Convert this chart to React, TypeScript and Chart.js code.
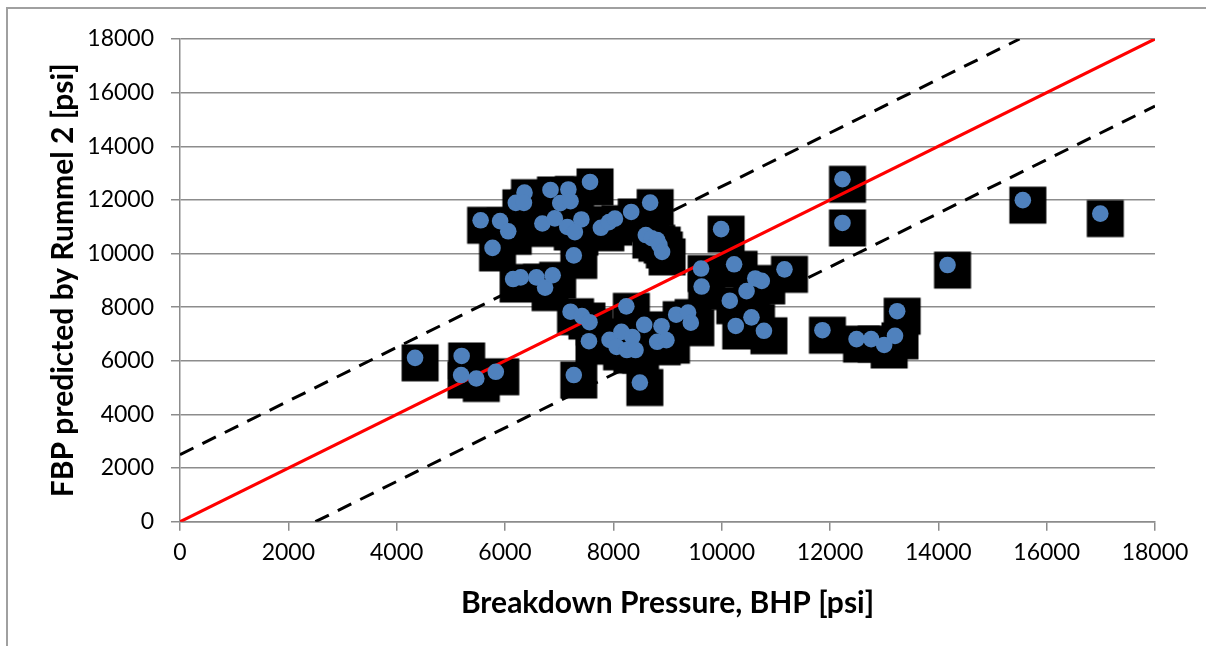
import React, { useEffect, useRef } from "react";
import { Chart, registerables } from "chart.js";

Chart.register(...registerables);

// Breakdown pressure (x) and FBP predicted by Rummel 2 (y), psi
const bhp = [
  4340, 5200, 5190, 5470, 5830, 5550, 5910, 6060, 5770, 6360,
  6200, 6350, 6840, 7170, 7020, 7210, 7570, 6690, 6920, 7150,
  7410, 7290, 7770, 7920, 8030, 8330, 8680, 8600, 8710, 8810,
  8850, 8900, 7270, 6150, 6290, 6580, 6740, 6880, 7210, 7420,
  7560, 7550, 7930, 8150, 8350, 8240, 8060, 8250, 8410, 8570,
  8890, 8810, 8980, 9160, 9380, 9430, 7270, 8490, 9620, 9630,
  9990, 10230, 10620, 10740, 10460, 10150, 10550, 10260, 10780, 11160,
  11860, 12230, 12230, 12490, 12760, 13000, 13200, 13240, 14170, 15560,
  16990,
];
const fbp = [
  6110, 6180, 5470, 5340, 5590, 11240, 11210, 10830, 10210, 12270,
  11890, 11890, 12370, 12390, 11880, 11950, 12670, 11120, 11310, 10990,
  11270, 10800, 10960, 11170, 11300, 11550, 11900, 10690, 10570, 10500,
  10320, 10060, 9930, 9050, 9110, 9110, 8730, 9190, 7830, 7670,
  7440, 6730, 6780, 7080, 6890, 8030, 6520, 6400, 6400, 7340,
  7290, 6710, 6770, 7720, 7800, 7420, 5470, 5190, 9440, 8770,
  10910, 9600, 9070, 8980, 8600, 8240, 7620, 7300, 7120, 9410,
  7140, 12770, 11140, 6810, 6810, 6590, 6930, 7850, 9570, 11990,
  11490,
];

// Reference lines: y = x, and y = x ± 2500
const perfectX = [0, 18000];
const perfectY = [0, 18000];
const upperX = [0, 15500];
const upperY = [2500, 18000];
const lowerX = [2500, 18000];
const lowerY = [0, 15500];

const axisMin = 0;
const axisMax = 18000;
const axisStep = 2000;

const xTitle = "Breakdown Pressure, BHP [psi]";
const yTitle = "FBP predicted by Rummel 2 [psi]";

const pairs = (xs: number[], ys: number[]) => xs.map((x, i) => ({ x, y: ys[i] }));

function makeSquareMarker(): HTMLCanvasElement {
  const c = document.createElement("canvas");
  c.width = 50;
  c.height = 50;
  const ctx = c.getContext("2d")!;
  ctx.fillStyle = "#000000";
  const size = 37;
  ctx.fillRect(25 + 5 - size / 2, 25 + 5 - size / 2, size, size);
  return c;
}

export default function App() {
  const ref = useRef<HTMLCanvasElement | null>(null);

  useEffect(() => {
    if (!ref.current) return;
    const square = makeSquareMarker();
    const gridColor = "#8c8c8c";
    const tickFont = { family: "Lato", size: 23 };
    const titleFont = { family: "Lato", size: 30, weight: "bold" as const };
    const plain = (v: any) => String(v);

    const chart = new Chart(ref.current, {
      type: "scatter",
      data: {
        datasets: [
          {
            label: "FBP",
            data: pairs(bhp, fbp),
            pointStyle: "circle",
            pointRadius: 8.3,
            pointHoverRadius: 8.3,
            backgroundColor: "#4F81BD",
            borderWidth: 0,
            order: 0,
          },
          {
            label: "1:1",
            data: pairs(perfectX, perfectY),
            showLine: true,
            borderColor: "#FF0000",
            borderWidth: 3.2,
            pointRadius: 0,
            order: 1,
          },
          {
            label: "+2500",
            data: pairs(upperX, upperY),
            showLine: true,
            borderColor: "#000000",
            borderWidth: 3,
            borderDash: [15, 10],
            pointRadius: 0,
            order: 1,
          },
          {
            label: "-2500",
            data: pairs(lowerX, lowerY),
            showLine: true,
            borderColor: "#000000",
            borderWidth: 3,
            borderDash: [15, 10],
            pointRadius: 0,
            order: 1,
          },
          {
            label: "marker",
            data: pairs(bhp, fbp),
            pointStyle: square as any,
            pointRadius: 18,
            backgroundColor: "#000000",
            borderWidth: 0,
            order: 2,
          },
        ],
      },
      options: {
        responsive: false,
        animation: false,
        events: [],
        layout: { padding: { left: 0, top: 39, right: 51, bottom: 0 } },
        plugins: {
          legend: { display: false },
          tooltip: { enabled: false },
        },
        scales: {
          x: {
            type: "linear",
            min: axisMin,
            max: axisMax,
            ticks: { stepSize: axisStep, font: tickFont, color: "#000", padding: 8, maxRotation: 0, callback: plain },
            grid: { drawOnChartArea: false, drawTicks: true, tickLength: 9, color: gridColor, lineWidth: 1.5 },
            border: { display: true, color: gridColor, width: 1.5 },
            title: { display: true, text: xTitle, font: titleFont, color: "#000", padding: { top: 0, bottom: 25 } },
            afterFit: (s: any) => {
              s.height = 124.3;
            },
          },
          y: {
            type: "linear",
            min: axisMin,
            max: axisMax,
            ticks: { stepSize: axisStep, font: tickFont, color: "#000", padding: 17, callback: plain },
            grid: { drawOnChartArea: true, drawTicks: true, tickLength: 9, color: gridColor, lineWidth: 1.5 },
            border: { display: true, color: gridColor, width: 1.5 },
            title: { display: true, text: yTitle, font: titleFont, color: "#000", padding: { top: 45, bottom: 0 } },
            afterFit: (s: any) => {
              s.width = 180;
            },
          },
        },
      },
    });
    return () => chart.destroy();
  }, []);

  return (
    <div style={{ position: "fixed", left: 0, top: 0, width: 1206, height: 646, background: "#fff", overflow: "hidden" }}>
      <div
        style={{
          position: "absolute",
          left: 6,
          top: 7,
          width: 1400,
          height: 800,
          borderLeft: "2px solid #a0a0a0",
          borderTop: "2px solid #a0a0a0",
        }}
      />
      <canvas ref={ref} width={1206} height={646} style={{ position: "absolute", left: 0, top: 0, width: 1206, height: 646 }} />
    </div>
  );
}
